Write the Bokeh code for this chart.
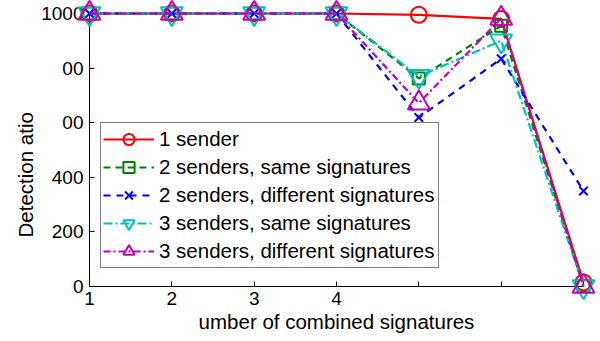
from bokeh.plotting import figure
from bokeh.models import FixedTicker, Title
from bokeh.embed import file_html
from bokeh.resources import INLINE

# ---- data -------------------------------------------------------------
combined = [1, 2, 3, 4, 5, 6, 7]
one_sender = [1000, 1000, 1000, 1000, 995, 980, 15]
two_same = [1000, 1000, 1000, 1000, 762, 955, 2]
two_diff = [1000, 1000, 1000, 1000, 619, 834, 350]
three_same = [1000, 1000, 1000, 1000, 770, 900, 0]
three_diff = [1000, 1000, 1000, 1000, 672, 982, 0]

series_labels = [
    "1 sender",
    "2 senders, same signatures",
    "2 senders, different signatures",
    "3 senders, same signatures",
    "3 senders, different signatures",
]
x_ticks = [1, 2, 3, 4, 5, 6, 7]
x_tick_text = {5: "", 6: "", 7: ""}
y_ticks = [0, 200, 400, 600, 800, 1000]
y_tick_text = {600: "00", 800: "00"}
x_title = "umber of combined signatures"
y_title = "Detection atio"

FONT = "Liberation Sans"

p = figure(width=600, height=341, output_backend="svg", toolbar_location=None,
           x_range=(1, 7), y_range=(0, 1000),
           min_border_left=89, min_border_right=17, min_border_top=13,
           min_border_bottom=55)
p.background_fill_color = "white"
p.border_fill_color = "white"
p.outline_line_color = None
p.grid.visible = False

# axes
for ax in (p.xaxis[0], p.yaxis[0]):
    ax.major_tick_in = 5
    ax.major_tick_out = 0
    ax.minor_tick_line_color = None
    ax.axis_line_color = "black"
    ax.major_tick_line_color = "black"
    ax.major_label_text_font = FONT
    ax.major_label_text_font_size = "19px"
    ax.major_label_text_color = "black"
p.xaxis.ticker = FixedTicker(ticks=x_ticks)
p.xaxis.major_label_overrides = x_tick_text
p.xaxis.major_label_standoff = 5
p.xaxis.axis_label = x_title
p.xaxis.axis_label_text_font = FONT
p.xaxis.axis_label_text_font_size = "20.5px"
p.xaxis.axis_label_text_font_style = "normal"
p.xaxis.axis_label_text_color = "black"
p.xaxis.axis_label_standoff = 2
p.yaxis.ticker = FixedTicker(ticks=y_ticks)
p.yaxis.major_label_overrides = y_tick_text
p.yaxis.major_label_standoff = 6

# y axis title (placed as a side title so it can be shifted along the axis)
p.add_layout(Title(text=y_title, align="left", offset=49,
                   text_font=FONT, text_font_size="20.5px",
                   text_font_style="normal", text_color="black",
                   standoff=3), "left")

styles = [
    dict(color="#ff0000", dash="solid", marker="circle", size=16),
    dict(color="#008000", dash="7 5", marker="square", size=12),
    dict(color="#0000ff", dash="7 6", marker="x", size=12),
    dict(color="#00bfbf", dash="9 3 2 3", marker="inverted_triangle", size=22),
    dict(color="#bf00bf", dash="7 3 2 3", marker="triangle", size=22),
]
all_series = [one_sender, two_same, two_diff, three_same, three_diff]

for ys, lab, st in zip(all_series, series_labels, styles):
    r1 = p.line(combined, ys, line_color=st["color"], line_width=2.2,
                line_dash=st["dash"], legend_label=lab)
    r2 = p.scatter(combined, ys, marker=st["marker"], size=st["size"],
                   line_color=st["color"], fill_color=None, line_width=2,
                   legend_label=lab)
    r1.level = "overlay"
    r2.level = "overlay"

leg = p.legend[0]
leg.location = (11, 18)
leg.border_line_color = "black"
leg.border_line_width = 1
leg.background_fill_color = "white"
leg.background_fill_alpha = 1
leg.label_text_font = FONT
leg.label_text_font_size = "20.5px"
leg.label_text_color = "black"
leg.glyph_width = 51
leg.glyph_height = 28
leg.label_height = 22
leg.label_standoff = 5
leg.label_width = 277
leg.padding = 2
leg.margin = 0
leg.spacing = 0

open("out.html", "w").write(file_html(p, INLINE))
